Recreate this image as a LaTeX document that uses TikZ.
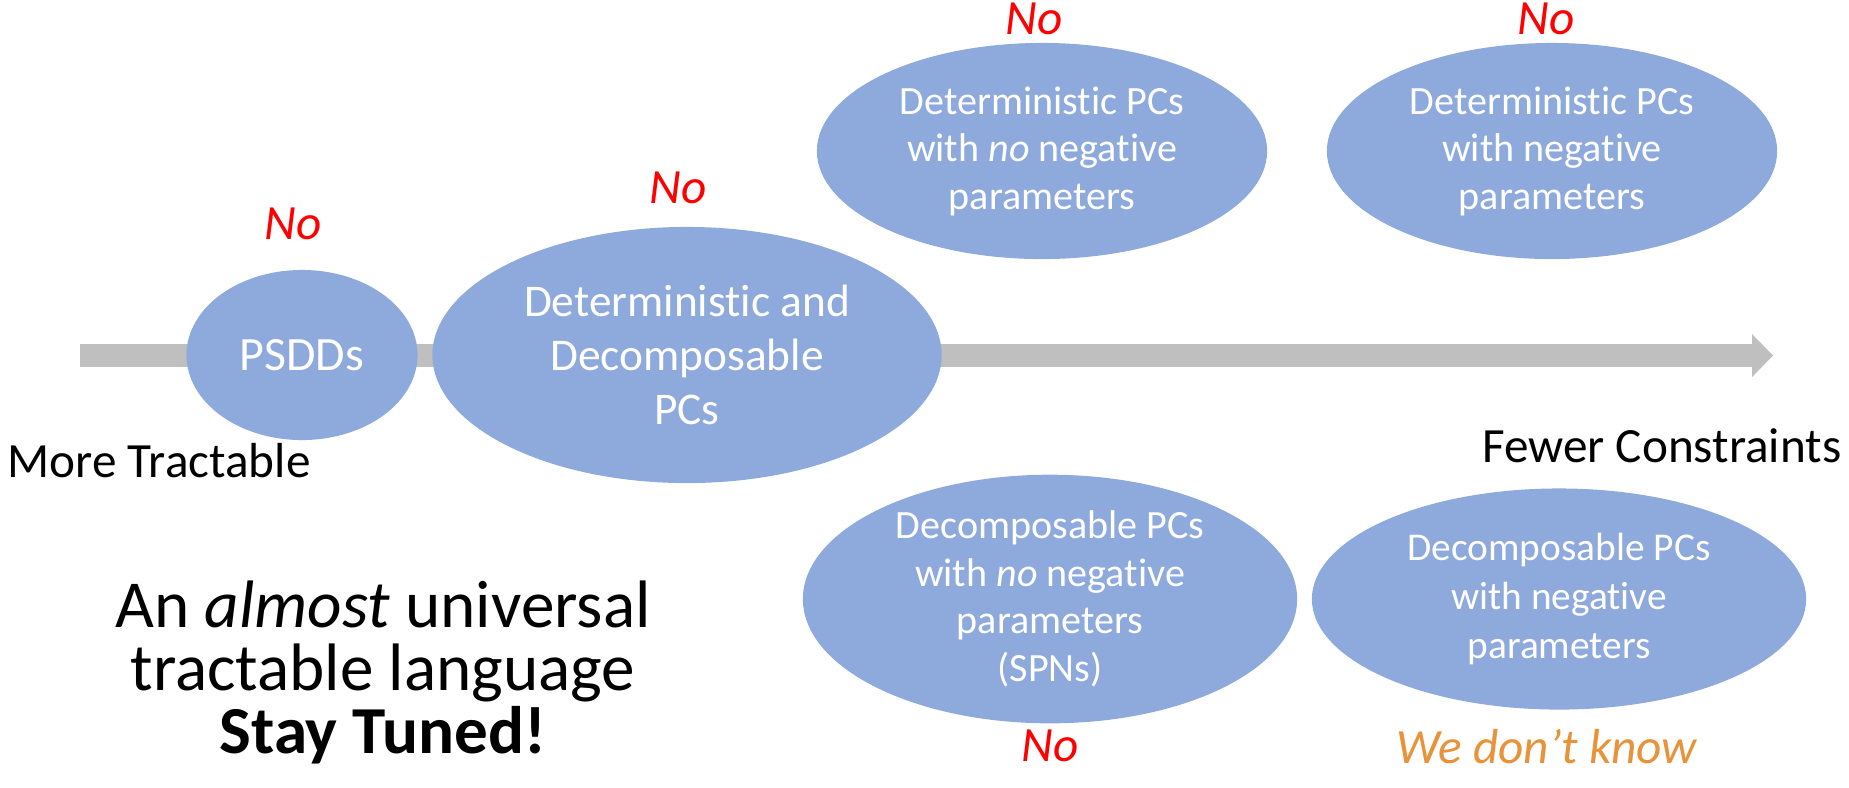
\documentclass[tikz,border=0pt]{standalone}
\usepackage{fontspec}
\setmainfont{Carlito}[Ligatures=NoCommon]
\usetikzlibrary{shapes.geometric,arrows.meta}
\definecolor{pcblue}{RGB}{142,169,219}
\definecolor{axisgray}{RGB}{191,191,191}
\definecolor{unsure}{RGB}{232,146,58}
\begin{document}
\begin{tikzpicture}[x=0.01cm,y=-0.01cm]
  \tikzstyle{pc}=[ellipse,fill=pcblue,text=white,align=center,inner sep=0,font=\fontsize{11.4}{13.5}\selectfont]
  \tikzstyle{no}=[anchor=base,text=red,font=\fontsize{14}{16}\selectfont\itshape]
  \tikzstyle{side}=[inner sep=0,font=\fontsize{14}{16}\selectfont]

  \useasboundingbox (0,0) rectangle (1849,787);
  \coordinate (from) at (80,355.5);
  \coordinate (to) at (1773,355.5);
  \draw[axisgray,line width=0.23cm,-{Triangle[length=0.21cm,width=0.43cm,line width=0pt]}] (from) -- (to);

  \node[pc,minimum width=2.31cm,minimum height=1.70cm,font=\fontsize{13.6}{16}\selectfont] (psdd) at (302,355) {PSDDs};
  \node[pc,minimum width=5.09cm,minimum height=2.56cm,font=\fontsize{12.9}{15.4}\selectfont] (dd) at (687,355) {Deterministic and\\Decomposable\\PCs};
  \node[pc,minimum width=4.50cm,minimum height=2.16cm] (detpos) at (1042,151) {Deterministic PCs\\with \textit{no} negative\\parameters};
  \node[pc,minimum width=4.50cm,minimum height=2.16cm] (detneg) at (1552,151) {Deterministic PCs\\with negative\\parameters};
  \node[pc,minimum width=4.94cm,minimum height=2.21cm] (decpos) at (1050,599) {Decomposable PCs\\with \textit{no} negative\\parameters\\(SPNs)};
  \node[pc,minimum width=4.94cm,minimum height=2.21cm,font=\fontsize{11.2}{13.8}\selectfont] (decneg) at (1559,599) {Decomposable PCs\\with negative\\parameters};

  % answers
  \node[no] (psddno) at (293,239) {No};
  \node[no] (ddno) at (678,203) {No};
  \node[no] (detposno) at (1034,34) {No};
  \node[no] (detnegno) at (1546,34) {No};
  \node[no] (decposno) at (1050,761) {No};
  \node[no,text=unsure] (decnegno) at (1547,763) {We don’t know};

  \node[side,anchor=base west] (tract) at (7,477) {More Tractable};
  \node[side,anchor=base east] (fewer) at (1842,462) {Fewer Constraints};
  \node[align=center,font=\fontsize{19.1}{17.9}\selectfont] (lang) at (383,672) {An \textit{almost} universal\\tractable language\\\textbf{Stay Tuned!}};
\end{tikzpicture}
\end{document}
